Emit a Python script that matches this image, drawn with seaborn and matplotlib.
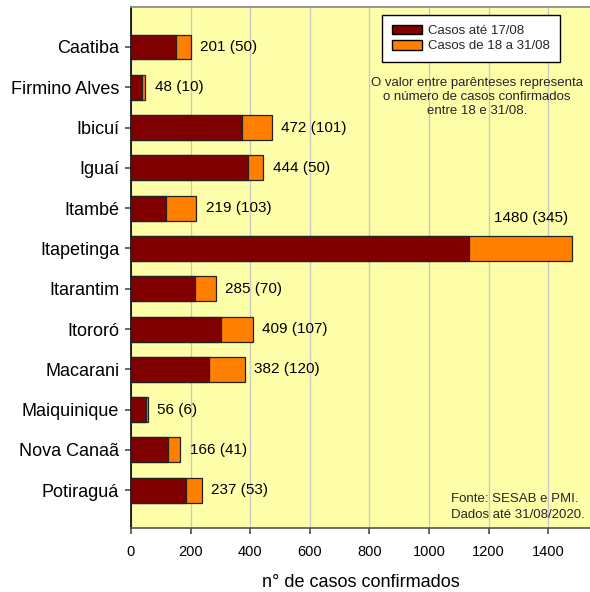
import matplotlib
matplotlib.use("Agg")
import matplotlib.pyplot as plt
from matplotlib.patches import Patch
import seaborn as sns
import pandas as pd

municipios = ["Caatiba", "Firmino Alves", "Ibicuí", "Iguaí", "Itambé", "Itapetinga",
              "Itarantim", "Itororó", "Macarani", "Maiquinique", "Nova Canaã", "Potiraguá"]
totais = [201, 48, 472, 444, 219, 1480, 285, 409, 382, 56, 166, 237]
casos_18_31 = [50, 10, 101, 50, 103, 345, 70, 107, 120, 6, 41, 53]
casos_ate_17 = [t - n for t, n in zip(totais, casos_18_31)]

df = pd.DataFrame({"municipio": municipios, "total": totais,
                   "novos": casos_18_31, "ate17": casos_ate_17})

sns.set_theme(style="white")
plt.rcParams['font.family'] = ['Liberation Sans', 'DejaVu Sans']

fig = plt.figure(figsize=(5.9, 5.92), dpi=100)
ax = fig.add_axes([0.222, 0.108, 0.778, 0.880])
ax.set_facecolor("#FFFFAA")

dark = "#800000"
orange = "#FF8000"

sns.barplot(data=df, x="total", y="municipio", orient="h", color=orange,
            saturation=1, edgecolor="#222222", linewidth=0.9, width=0.62, ax=ax, zorder=3)
sns.barplot(data=df, x="ate17", y="municipio", orient="h", color=dark,
            saturation=1, edgecolor="#222222", linewidth=0.9, width=0.62, ax=ax, zorder=4)

for i, (t, n) in enumerate(zip(totais, casos_18_31)):
    label = f"{t} ({n})"
    if t > 1200:
        ax.text(t - 138, i - 0.75, label, ha="center", va="center", fontsize=11, color="black")
    else:
        ax.text(t + 32, i, label, ha="left", va="center", fontsize=11, color="black")

ax.set_xlim(0, 1540)
ax.set_ylim(11.94, -0.99)
ax.set_xticks(range(0, 1401, 200))
ax.xaxis.grid(True, color="#c8c8c8", linewidth=1, zorder=0)
ax.set_axisbelow(True)
ax.tick_params(axis="x", labelsize=10.5, length=4, direction="out", color="#555555", bottom=True, pad=8)
ax.tick_params(axis="y", labelsize=13, length=4, direction="out", color="#555555", left=True, pad=4.5)
ax.set_xlabel("n° de casos confirmados", fontsize=13, labelpad=11, color="black")
ax.set_ylabel("")
for lbl in ax.get_xticklabels() + ax.get_yticklabels():
    lbl.set_color("black")

ax.spines["left"].set_color("black")
ax.spines["left"].set_linewidth(1.2)
ax.spines["bottom"].set_color("#555555")
ax.spines["bottom"].set_linewidth(1.2)
ax.spines["top"].set_color("#888888")
ax.spines["right"].set_visible(False)

handles = [Patch(facecolor=dark, edgecolor="black", label="Casos até 17/08"),
           Patch(facecolor=orange, edgecolor="black", label="Casos de 18 a 31/08")]
leg = ax.legend(handles=handles, loc="upper left", bbox_to_anchor=(0.547, 0.985),
                borderaxespad=0, fontsize=9.5, frameon=True, fancybox=False, framealpha=1,
                edgecolor="black", handlelength=2.3, handleheight=0.75,
                borderpad=0.75, labelspacing=0.2, handletextpad=0.45)
leg.get_frame().set_linewidth(1)

ax.text(0.754, 0.866, "O valor entre parênteses representa\no número de casos confirmados\nentre 18 e 31/08.",
        transform=ax.transAxes, ha="center", va="top", fontsize=9.5, linespacing=1.25)
ax.text((451 - 131) / 459, 0.068, "Fonte: SESAB e PMI.\nDados até 31/08/2020.",
        transform=ax.transAxes, ha="left", va="top", fontsize=9.5, linespacing=1.45)

fig.savefig("out.png", dpi=100, facecolor="white")
